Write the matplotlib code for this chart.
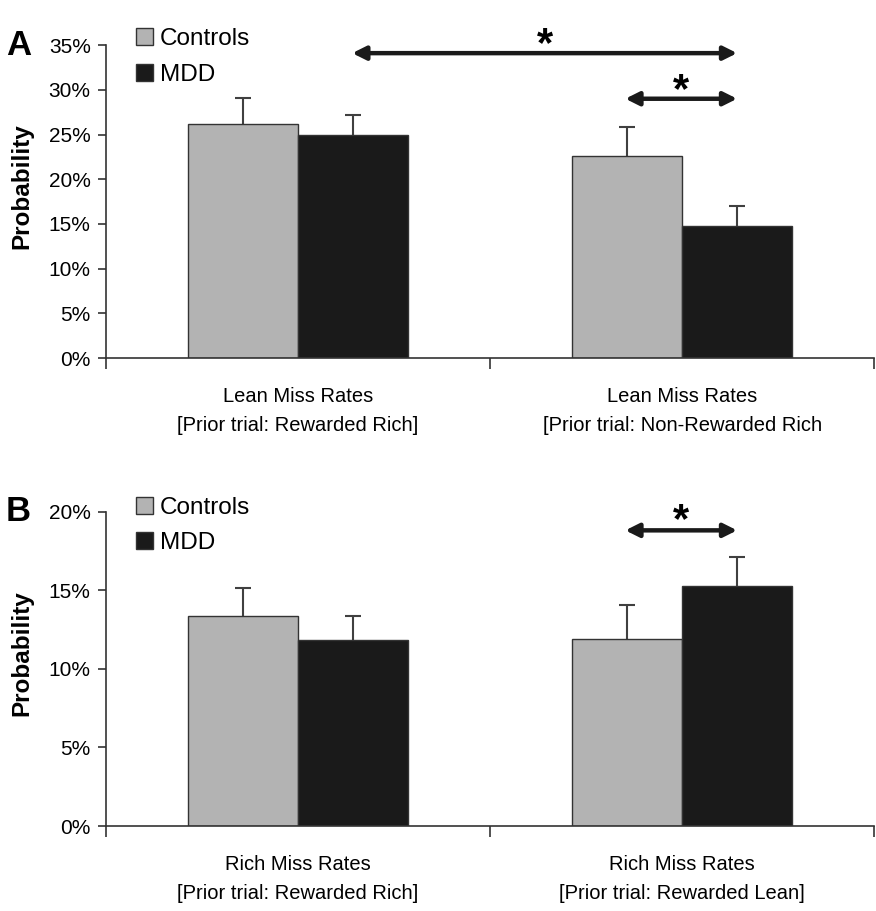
import matplotlib.pyplot as plt
from matplotlib.patches import Patch
from matplotlib.ticker import FuncFormatter

# ---- data ----
groups = ['Controls', 'MDD']
labels_a = ['Lean Miss Rates\n[Prior trial: Rewarded Rich]',
            'Lean Miss Rates\n[Prior trial: Non-Rewarded Rich']
controls_a = [26.2, 22.6]
controls_a_se = [2.9, 3.2]
mdd_a = [24.9, 14.8]
mdd_a_se = [2.3, 2.2]

labels_b = ['Rich Miss Rates\n[Prior trial: Rewarded Rich]',
            'Rich Miss Rates\n[Prior trial: Rewarded Lean]']
controls_b = [13.4, 11.9]
controls_b_se = [1.75, 2.2]
mdd_b = [11.85, 15.3]
mdd_b_se = [1.5, 1.85]

c_ctrl = '#b3b3b3'
c_mdd = '#1a1a1a'
edge = '#333333'

plt.rcParams['font.family'] = ['Liberation Sans', 'DejaVu Sans']

fig = plt.figure(figsize=(8.76, 9.11), dpi=100)
axA = fig.add_axes([0.121, 0.607, 0.877, 0.3435])
axB = fig.add_axes([0.121, 0.0933, 0.877, 0.3447])

width = 0.287


def draw_panel(ax, labels, ctrl, ctrl_se, mdd, mdd_se, ymax, ystep, letter, leg_y):
    x = range(len(labels))
    xc = [i - width / 2 for i in x]
    xm = [i + width / 2 for i in x]
    ax.bar(xc, ctrl, width, color=c_ctrl, edgecolor=edge, linewidth=1.0, zorder=2)
    ax.bar(xm, mdd, width, color=c_mdd, edgecolor=edge, linewidth=1.0, zorder=2)
    # symmetric bars drawn behind, so only the upper half shows
    ax.errorbar(xc, ctrl, yerr=ctrl_se, fmt='none',
                ecolor='#404040', elinewidth=1.5, capsize=5.5, capthick=1.5, zorder=1)
    ax.errorbar(xm, mdd, yerr=mdd_se, fmt='none',
                ecolor='#404040', elinewidth=1.5, capsize=5.5, capthick=1.5, zorder=1)

    ax.set_xlim(-0.5, 1.5)
    ax.set_ylim(0, ymax)
    ax.set_yticks([v * ystep for v in range(int(round(ymax / ystep)) + 1)])
    ax.yaxis.set_major_formatter(FuncFormatter(lambda v, p: f'{v:.0f}%'))
    ax.set_xticks([-0.5, 0.5, 1.5])
    ax.set_xticklabels([])
    ax.set_xticks([0, 1], minor=True)
    ax.set_xticklabels(labels, minor=True, fontsize=14.5, linespacing=1.65)
    ax.tick_params(axis='x', which='minor', length=0, pad=21)
    ax.tick_params(axis='x', which='major', direction='out', length=8, width=1.2, color='#333333')
    ax.tick_params(axis='y', direction='out', length=6, width=1.2, color='#333333',
                   labelsize=15, pad=5)
    for s in ['top', 'right']:
        ax.spines[s].set_visible(False)
    for s in ['left', 'bottom']:
        ax.spines[s].set_linewidth(1.2)
        ax.spines[s].set_color('#333333')

    ax.set_ylabel('Probability', fontsize=17.5, fontweight='bold')
    ax.yaxis.set_label_coords(-0.095, 0.55)
    ax.text(-0.13, 1.0, letter, transform=ax.transAxes, fontsize=25,
            fontweight='bold', ha='left', va='center')

    handles = [Patch(facecolor=c_ctrl, edgecolor=edge, linewidth=1.0),
               Patch(facecolor=c_mdd, edgecolor=edge, linewidth=1.0)]
    ax.legend(handles, groups, loc='upper left', bbox_to_anchor=(0.026, leg_y),
              frameon=False, fontsize=17.5, handlelength=0.7, handleheight=0.7,
              handletextpad=0.3, labelspacing=0.55, borderaxespad=0)


def sig_arrow(ax, x0, x1, y, ystar):
    ax.annotate('', xy=(x1, y), xytext=(x0, y),
                arrowprops=dict(arrowstyle='<|-|>', color=c_mdd, lw=3.2,
                                mutation_scale=20, shrinkA=0, shrinkB=0))
    ax.text((x0 + x1) / 2, ystar, '*', ha='center', va='center',
            fontsize=30, fontweight='bold')


draw_panel(axA, labels_a, controls_a, controls_a_se, mdd_a, mdd_a_se,
           35, 5, 'A', 1.085)
draw_panel(axB, labels_b, controls_b, controls_b_se, mdd_b, mdd_b_se,
           20, 5, 'B', 1.08)

sig_arrow(axA, 0.141, 1.143, 34.1, 35.0)
sig_arrow(axA, 0.852, 1.143, 29.0, 29.9)
sig_arrow(axB, 0.852, 1.143, 18.83, 19.45)

fig.savefig('out.png', dpi=100)
